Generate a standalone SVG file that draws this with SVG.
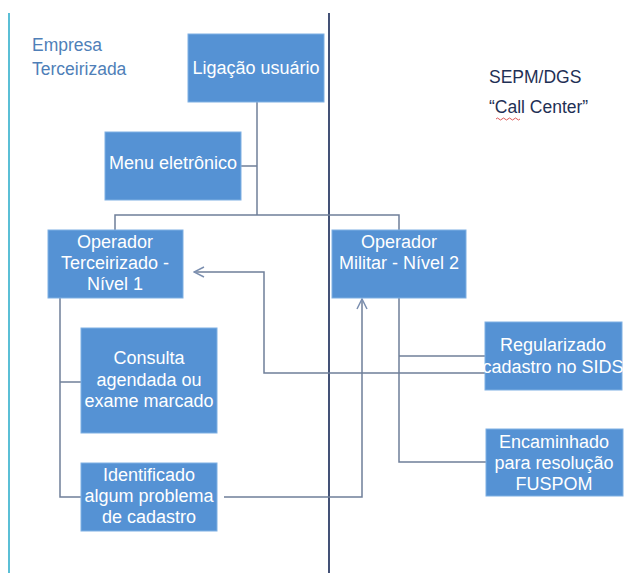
<svg xmlns="http://www.w3.org/2000/svg" width="626" height="573" viewBox="0 0 626 573">
<defs>
<style>
.box{fill:#5592d4;stroke:#7fb0e3;stroke-width:1}
.bt{font-family:"Liberation Sans",Arial,sans-serif;font-size:18px;fill:#ffffff;text-anchor:middle}
.lbl{font-family:"Liberation Sans",Arial,sans-serif;font-size:17.5px}
.con{fill:none;stroke:#6f7f99;stroke-width:1.5}
</style>
<marker id="arr" viewBox="0 0 12 12" refX="11" refY="6" markerWidth="12" markerHeight="12" markerUnits="userSpaceOnUse" orient="auto">
<path d="M1,1 L11,6 L1,11" fill="none" stroke="#7b8fb0" stroke-width="1.5"/>
</marker>
</defs>
<rect width="626" height="573" fill="#ffffff"/>
<g id="dividers">
<line x1="9" y1="13" x2="9" y2="573" stroke="#5bbfd6" stroke-width="2"/>
<line x1="329" y1="13" x2="329" y2="573" stroke="#2f3f68" stroke-width="1.8"/>
</g>
<g id="labels">
<text class="lbl" x="32" y="51" fill="#4f7fb8">Empresa</text>
<text class="lbl" x="32" y="75" fill="#4f7fb8">Terceirizada</text>
<text class="lbl" x="489" y="83" fill="#1f3055" font-size="16.5">SEPM/DGS</text>
<text class="lbl" x="489" y="113" fill="#1f3055">“Call Center”</text>
<path d="M496,119 q1.5,-2 3,0 t3,0 t3,0 t3,0 t3,0 t3,0 t3,0 t3,0" fill="none" stroke="#d03030" stroke-width="0.8"/>
</g>
<g id="connectors">
<path class="con" d="M257,102 V215"/>
<path class="con" d="M241,166 H257"/>
<path class="con" d="M115,230 V215 H399 V230"/>
<path class="con" d="M60,298 V497 H81"/>
<path class="con" d="M60,382 H81"/>
<path class="con" d="M399,298 V462 H486"/>
<path class="con" d="M399,356 H485"/>
<path class="con" d="M485,373 H264 V272 H194" marker-end="url(#arr)"/>
<path class="con" d="M224,497 H362 V299" marker-end="url(#arr)"/>
</g>
<g id="ligacao">
<rect class="box" x="188" y="34" width="136" height="68"/>
<text class="bt" x="256" y="74">Ligação usuário</text>
</g>
<g id="menu">
<rect class="box" x="105" y="132" width="136" height="68"/>
<text class="bt" x="173" y="169">Menu eletrônico</text>
</g>
<g id="op-terceirizado">
<rect class="box" x="48" y="230" width="135" height="68"/>
<text class="bt" x="115" y="248">Operador</text>
<text class="bt" x="115" y="269">Terceirizado -</text>
<text class="bt" x="115" y="290">Nível 1</text>
</g>
<g id="op-militar">
<rect class="box" x="332" y="230" width="134" height="68"/>
<text class="bt" x="399" y="248">Operador</text>
<text class="bt" x="399" y="269">Militar - Nível 2</text>
</g>
<g id="regularizado">
<rect class="box" x="485" y="322" width="137" height="68"/>
<text class="bt" x="553" y="351">Regularizado</text>
<text class="bt" x="553" y="373">cadastro no SIDS</text>
</g>
<g id="encaminhado">
<rect class="box" x="486" y="429" width="137" height="67"/>
<text class="bt" x="554" y="448">Encaminhado</text>
<text class="bt" x="554" y="469">para resolução</text>
<text class="bt" x="554" y="490">FUSPOM</text>
</g>
<g id="consulta">
<rect class="box" x="81" y="328" width="136" height="105"/>
<text class="bt" x="149" y="364">Consulta</text>
<text class="bt" x="149" y="386">agendada ou</text>
<text class="bt" x="149" y="407">exame marcado</text>
</g>
<g id="identificado">
<rect class="box" x="81" y="463" width="136" height="68"/>
<text class="bt" x="149" y="481">Identificado</text>
<text class="bt" x="149" y="502">algum problema</text>
<text class="bt" x="149" y="523">de cadastro</text>
</g>
</svg>
